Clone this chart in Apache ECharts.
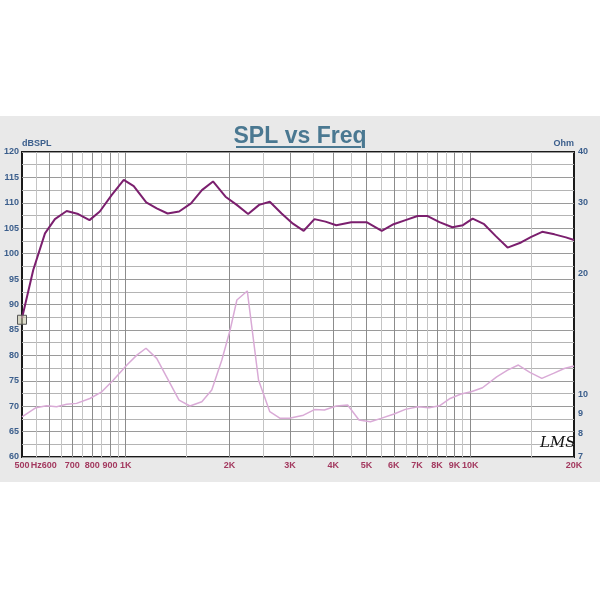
<!DOCTYPE html>
<html>
<head>
<meta charset="utf-8">
<script src="https://cdn.jsdelivr.net/npm/echarts@6/dist/echarts.min.js"></script>
<style>html,body{margin:0;padding:0;background:#fff}#c{width:600px;height:600px}</style>
</head>
<body>
<div id="c"></div>
<script>
// ---- data ----
const splFreq = [500, 539, 583, 623, 674, 728, 785, 841, 910, 987, 1055, 1147, 1230, 1323, 1429, 1547, 1664, 1792, 1948, 2100, 2266, 2439, 2619, 2834, 3057, 3285, 3530, 3800, 4084, 4514, 5000, 5536, 5989, 6487, 7030, 7520, 8140, 8870, 9520, 10160, 10970, 11840, 12830, 14040, 15030, 16170, 17550, 18950, 20000];
const splValues = [87.3, 96.8, 104.0, 106.8, 108.4, 107.8, 106.6, 108.3, 111.5, 114.5, 113.3, 110.1, 108.9, 107.9, 108.3, 109.9, 112.5, 114.2, 111.2, 109.6, 107.8, 109.6, 110.2, 107.9, 105.9, 104.5, 106.8, 106.3, 105.6, 106.2, 106.2, 104.5, 105.8, 106.6, 107.4, 107.4, 106.2, 105.2, 105.6, 106.9, 105.8, 103.5, 101.2, 102.2, 103.3, 104.3, 103.8, 103.2, 102.7];
const impFreq = [500, 549, 589, 630, 674, 720, 787, 852, 921, 1008, 1077, 1145, 1230, 1314, 1428, 1536, 1663, 1777, 1901, 2009, 2102, 2253, 2429, 2619, 2807, 2988, 3280, 3530, 3773, 4084, 4406, 4754, 5130, 5507, 6008, 6478, 7050, 7595, 8140, 8740, 9400, 10060, 10850, 11930, 12830, 13790, 14890, 16130, 17430, 18740, 20000];
const impValues = [8.81, 9.28, 9.38, 9.33, 9.46, 9.51, 9.78, 10.16, 10.87, 11.84, 12.53, 13.03, 12.3, 11.07, 9.69, 9.37, 9.60, 10.26, 12.19, 14.46, 17.17, 18.08, 10.87, 9.07, 8.73, 8.73, 8.89, 9.18, 9.16, 9.37, 9.42, 8.65, 8.56, 8.73, 8.95, 9.19, 9.33, 9.28, 9.38, 9.78, 10.03, 10.16, 10.4, 11.07, 11.5, 11.84, 11.35, 10.97, 11.29, 11.61, 11.77];
const xLabelValues = [500, 550, 600, 700, 800, 900, 1000, 2000, 3000, 4000, 5000, 6000, 7000, 8000, 9000, 10000, 20000];
const xLabelTexts = ['500', 'Hz', '600', '700', '800', '900', '1K', '2K', '3K', '4K', '5K', '6K', '7K', '8K', '9K', '10K', '20K'];
const xMajorGrid = [600, 700, 800, 900, 1000, 2000, 3000, 4000, 5000, 6000, 7000, 8000, 9000, 10000];
const xMinorGrid = [550, 650, 750, 850, 950, 1500, 2500, 3500, 4500, 5500, 6500, 7500, 8500, 9500, 15000];
const ohmTicks = [7, 8, 9, 10, 20, 30, 40];
const titleText = 'SPL vs Freq';

const FONT = "'Liberation Sans Narrow','Arial Narrow','Liberation Sans',Arial,sans-serif";
const chart = echarts.init(document.getElementById('c'), null, {renderer: 'canvas'});
const labelMap = {};
xLabelValues.forEach((v, i) => labelMap[v] = xLabelTexts[i]);

const splData = splFreq.map((f, i) => [f, splValues[i]]);
const impData = impFreq.map((f, i) => [f, impValues[i]]);

chart.setOption({
  backgroundColor: '#ffffff',
  animation: false,
  graphic: [
    {type: 'rect', z: -10, silent: true, shape: {x: 0, y: 116, width: 600, height: 366}, style: {fill: '#e9e9e9'}},
    {type: 'line', z: 10, shape: {x1: 236, y1: 147, x2: 361, y2: 147}, style: {stroke: '#4a7891', lineWidth: 2}},
    {type: 'text', z: 10, left: 540, top: 436, style: {text: 'LMS', font: "italic 15px 'DejaVu Serif', serif", fill: '#111'}}
  ],
  title: {
    text: titleText, left: 'center', top: 120,
    textStyle: {fontSize: 23, fontWeight: 'bold', color: '#4a7891', fontFamily: "'Liberation Sans',Arial,sans-serif"}
  },
  grid: {left: 22, right: 26, top: 152, bottom: 143, show: true, backgroundColor: '#ffffff', borderColor: '#1a1a1a', borderWidth: 2},
  xAxis: [
    {
      type: 'log', logBase: 10, min: 500, max: 20000, position: 'bottom',
      axisLine: {show: false}, axisTick: {show: false, customValues: xMajorGrid},
      axisLabel: {customValues: xLabelValues, formatter: v => labelMap[Math.round(v)] || '', color: '#a3395f', fontSize: 9, fontWeight: 'bold', fontFamily: FONT, margin: 4},
      splitLine: {show: true, lineStyle: {color: '#8c8c8c', width: 1}}
    },
    {
      type: 'log', logBase: 10, min: 500, max: 20000, position: 'top',
      axisLine: {show: false}, axisTick: {show: false, customValues: xMinorGrid},
      axisLabel: {show: false},
      splitLine: {show: true, lineStyle: {color: '#c4c4c4', width: 1}}
    }
  ],
  yAxis: [
    {
      type: 'value', min: 60, max: 120, interval: 5, position: 'left',
      name: 'dBSPL', nameLocation: 'end', nameGap: 3,
      nameTextStyle: {align: 'left', color: '#3b5e8c', fontSize: 9, fontWeight: 'bold', fontFamily: FONT},
      axisLine: {show: false}, axisTick: {show: false},
      axisLabel: {color: '#3b5e8c', fontSize: 9, fontWeight: 'bold', fontFamily: FONT, margin: 3},
      splitLine: {show: true, lineStyle: {color: '#9a9a9a', width: 1}},
      minorTick: {show: false, splitNumber: 2},
      minorSplitLine: {show: true, lineStyle: {color: '#b4b4b4', width: 1}}
    },
    {
      type: 'log', logBase: 10, min: 7, max: 40, position: 'right',
      name: 'Ohm', nameLocation: 'end', nameGap: 3,
      nameTextStyle: {align: 'right', color: '#3b5e8c', fontSize: 9, fontWeight: 'bold', fontFamily: FONT},
      axisLine: {show: false}, axisTick: {show: false, customValues: ohmTicks},
      axisLabel: {customValues: ohmTicks, color: '#3b5e8c', fontSize: 9, fontWeight: 'bold', fontFamily: FONT, margin: 4},
      splitLine: {show: false}
    }
  ],
  series: [
    {
      name: 'Impedance', type: 'line', xAxisIndex: 0, yAxisIndex: 1, data: impData,
      showSymbol: false, symbol: 'none', z: 3,
      lineStyle: {color: '#d9aad6', width: 1.5}
    },
    {
      name: 'SPL', type: 'line', xAxisIndex: 0, yAxisIndex: 0, data: splData,
      showSymbol: false, symbol: 'none', z: 4,
      lineStyle: {color: '#7b1f6e', width: 2},
      markPoint: {
        symbol: 'rect', symbolSize: 9, silent: true,
        itemStyle: {color: 'rgba(200,200,170,0.6)', borderColor: '#555', borderWidth: 1},
        label: {show: false},
        data: [{coord: [500, 87]}]
      }
    }
  ]
});
</script>
</body>
</html>
